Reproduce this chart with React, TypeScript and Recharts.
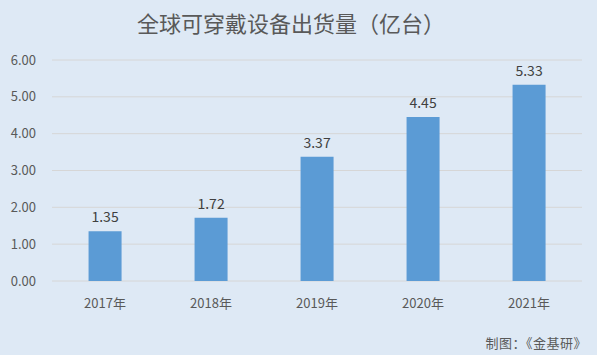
import { BarChart, Bar, XAxis, YAxis, CartesianGrid, LabelList } from "recharts"

const years = ["2017年", "2018年", "2019年", "2020年", "2021年"]
const shipments = [1.35, 1.72, 3.37, 4.45, 5.33]
const yTicks = [0, 1, 2, 3, 4, 5, 6]

const font = '"Noto Sans CJK SC", "Microsoft YaHei", sans-serif'

export default function App() {
  const data = years.map((y, i) => ({ name: y, value: shipments[i] }))

  return (
    <div
      style={{
        position: "fixed",
        left: 0,
        top: 0,
        width: 597,
        height: 355,
        background: "#dee9f5",
        fontFamily: font,
      }}
    >
      <div
        style={{
          position: "absolute",
          top: 6,
          left: 0,
          width: 582,
          textAlign: "center",
          fontSize: 22,
          color: "#595959",
          lineHeight: "32px",
        }}
      >
        全球可穿戴设备出货量（亿台）
      </div>
      <BarChart
        width={597}
        height={355}
        data={data}
        margin={{ top: 60, right: 15, left: 0, bottom: 44 }}
        barCategoryGap="34.5%"
      >
        <CartesianGrid stroke="#d6d6d6" vertical={false} />
        <XAxis
          dataKey="name"
          axisLine={false}
          tickLine={false}
          height={30}
          tickMargin={12}
          tick={{ fontSize: 13, fill: "#595959", fontFamily: font }}
        />
        <YAxis
          width={52}
          domain={[0, 6]}
          ticks={yTicks}
          axisLine={false}
          tickLine={false}
          tickMargin={10}
          tickFormatter={(v: number) => v.toFixed(2)}
          tick={{ fontSize: 13, fill: "#595959", fontFamily: font }}
        />
        <Bar dataKey="value" fill="#5b9bd5" isAnimationActive={false}>
          <LabelList
            dataKey="value"
            position="top"
            offset={9}
            formatter={(v: number) => v.toFixed(2)}
            style={{ fontSize: 14, fill: "#404040", fontFamily: font }}
          />
        </Bar>
      </BarChart>
      <div
        style={{
          position: "absolute",
          right: 10,
          top: 334,
          fontSize: 13,
          color: "#595959",
          lineHeight: "18px",
          letterSpacing: 0.5,
        }}
      >
        制图：《金基研》
      </div>
    </div>
  )
}
